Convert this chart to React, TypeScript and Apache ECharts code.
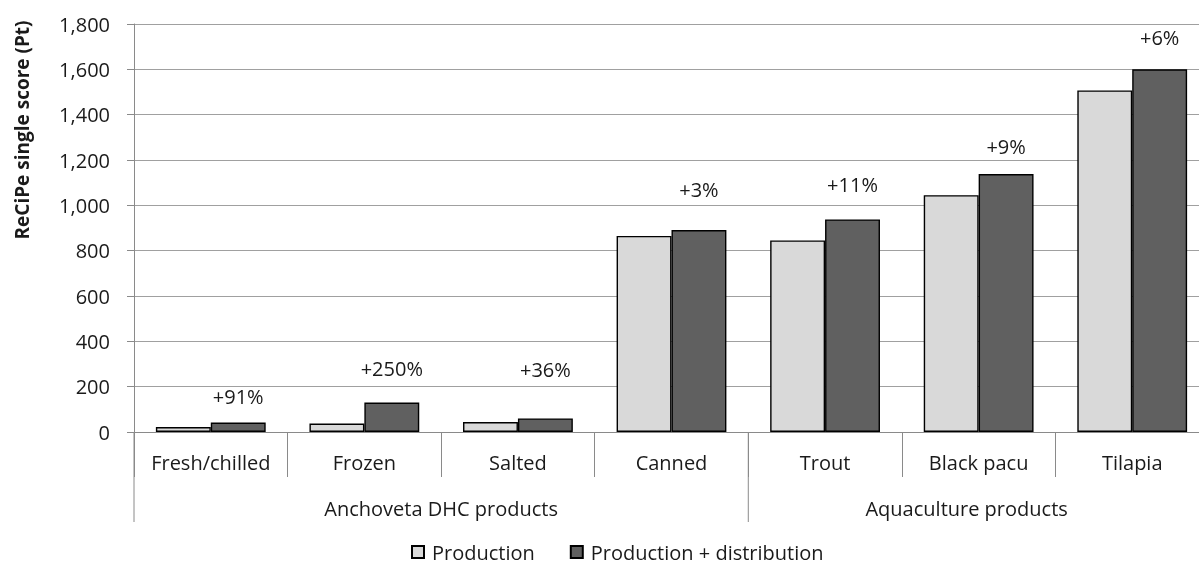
import React, { useEffect, useRef } from 'react';
import * as echarts from 'echarts';

const categories = ['Fresh/chilled', 'Frozen', 'Salted', 'Canned', 'Trout', 'Black pacu', 'Tilapia'];
const groupNames = ['Anchoveta DHC products', 'Aquaculture products'];
const groupSizes = [4, 3];
const production = [22, 37, 44, 865, 845, 1045, 1507];
const productionDistribution = [42, 130, 60, 891, 938, 1138, 1600];
const increaseLabels = ['+91%', '+250%', '+36%', '+3%', '+11%', '+9%', '+6%'];
const labelLift = [16, 24, 39, 31, 25, 18, 22];
const seriesNames = ['Production', 'Production + distribution'];

const FONT = '"Open Sans", sans-serif';
const FS = 20;
const TEXT = '#1a1a1a';
const AXIS = '#8a8a8a';
const GRIDC = '#a0a0a0';

export default function App() {
  const ref = useRef<HTMLDivElement>(null);
  useEffect(() => {
    if (!ref.current) return;
    const chart = echarts.init(ref.current, undefined, { renderer: 'svg' });
    const option: any = {
      animation: false,
      textStyle: { fontFamily: FONT },
      grid: { left: 134, width: 1075, top: 24, height: 408, containLabel: false, outerBoundsMode: 'none' },
      legend: {
        left: 411,
        top: 542,
        padding: 0,
        itemWidth: 12,
        itemHeight: 12,
        itemGap: 35,
        icon: 'rect',
        textStyle: { fontFamily: FONT, fontSize: FS, color: TEXT, padding: [0, 0, 0, 3] },
        data: seriesNames,
      },
      xAxis: {
        type: 'category',
        data: categories,
        axisLine: { show: true, lineStyle: { color: AXIS, width: 1 } },
        axisTick: { show: true, interval: 0, length: 45, alignWithLabel: false, lineStyle: { color: AXIS } },
        axisLabel: { interval: 0, margin: 20, fontSize: FS, color: TEXT, fontFamily: FONT },
        splitLine: { show: false },
      },
      yAxis: {
        type: 'value',
        min: 0,
        max: 1800,
        interval: 200,
        axisLine: { show: true, lineStyle: { color: AXIS, width: 1 } },
        axisTick: { show: true, length: 7, lineStyle: { color: AXIS } },
        axisLabel: {
          margin: 24,
          fontSize: FS,
          color: TEXT,
          fontFamily: FONT,
          formatter: (v: number) => v.toLocaleString('en-US'),
        },
        splitLine: { show: true, lineStyle: { color: GRIDC, width: 1 } },
      },
      series: [
        {
          name: seriesNames[0],
          type: 'bar',
          data: production,
          barGap: '0%',
          barCategoryGap: '28.5%',
          itemStyle: { color: '#d9d9d9', borderColor: '#000', borderWidth: 1.4 },
        },
        {
          name: seriesNames[1],
          type: 'bar',
          data: productionDistribution.map((v, i) => ({
            value: v,
            label: { distance: labelLift[i] },
          })),
          barGap: '0%',
          barCategoryGap: '28.5%',
          itemStyle: { color: '#606060', borderColor: '#000', borderWidth: 1.4 },
          label: {
            show: true,
            position: 'top',
            fontSize: FS,
            color: TEXT,
            fontFamily: FONT,
            formatter: (p: any) => increaseLabels[p.dataIndex],
          },
        },
      ],
    };
    chart.setOption(option);

    const c0 = chart.convertToPixel({ xAxisIndex: 0 }, categories[0]) as number;
    const c1 = chart.convertToPixel({ xAxisIndex: 0 }, categories[1]) as number;
    const bw = c1 - c0;
    const axisY = chart.convertToPixel({ yAxisIndex: 0 }, 0) as number;
    const W = chart.getWidth();
    const graphics: any[] = [];
    let start = 0;
    groupNames.forEach((g, gi) => {
      const leftX = c0 - bw / 2 + start * bw;
      const rightX = Math.min(c0 - bw / 2 + (start + groupSizes[gi]) * bw, W - 14);
      graphics.push({
        type: 'line',
        shape: { x1: leftX, y1: axisY, x2: leftX, y2: axisY + 90 },
        style: { stroke: AXIS, lineWidth: 1 },
        silent: true,
      });
      graphics.push({
        type: 'text',
        x: (leftX + rightX) / 2,
        y: axisY + 76,
        style: {
          text: g,
          fontSize: FS,
          fontFamily: FONT,
          fill: TEXT,
          align: 'center',
          verticalAlign: 'middle',
        },
        silent: true,
      });
      start += groupSizes[gi];
    });
    graphics.push({
      type: 'text',
      x: 22,
      y: 130,
      rotation: Math.PI / 2,
      style: {
        text: 'ReCiPe single score (Pt)',
        fontSize: 19,
        fontWeight: 'bold',
        fontFamily: FONT,
        fill: TEXT,
        align: 'center',
        verticalAlign: 'middle',
      },
      silent: true,
    });
    chart.setOption({ graphic: graphics });

    return () => chart.dispose();
  }, []);
  return <div ref={ref} style={{ position: 'fixed', left: 0, top: 0, width: 1199, height: 565 }} />;
}
